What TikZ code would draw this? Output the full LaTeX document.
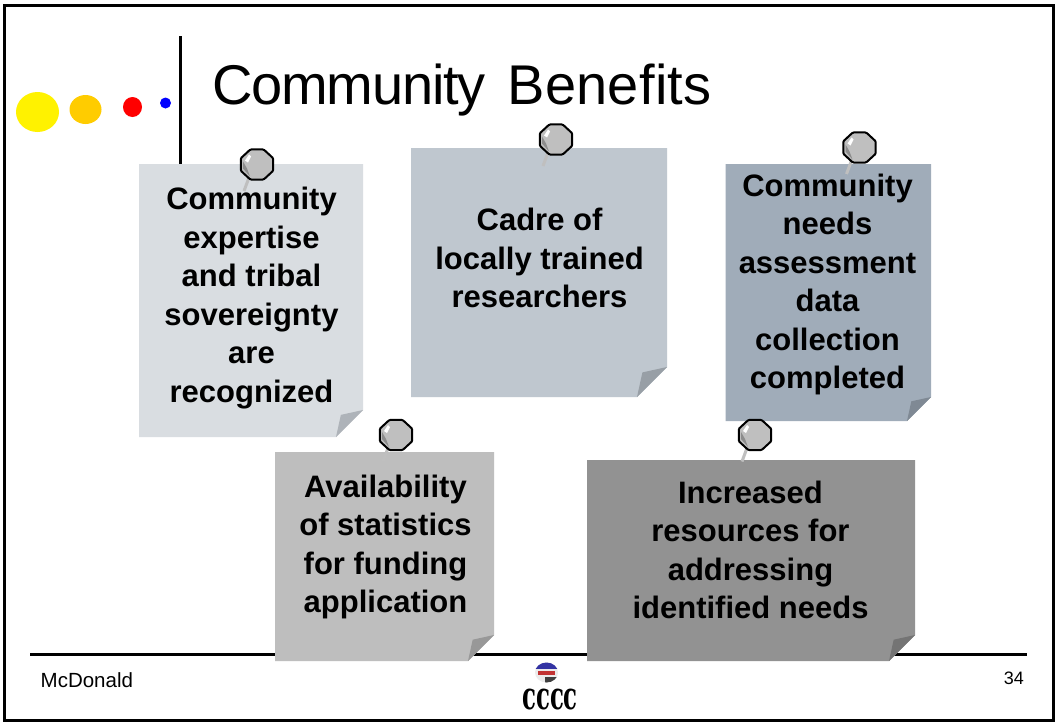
\documentclass[tikz,border=0pt]{standalone}
\usepackage{fontspec}
\setmainfont{Liberation Sans}
\newfontfamily\logofont{DejaVu Serif}
\usetikzlibrary{shapes.geometric}
\definecolor{noteA}{HTML}{D9DDE1}
\definecolor{foldA}{HTML}{AEB3B9}
\definecolor{noteB}{HTML}{BFC7CF}
\definecolor{foldB}{HTML}{989FA6}
\definecolor{noteC}{HTML}{A0ACB9}
\definecolor{foldC}{HTML}{7F8994}
\definecolor{noteD}{HTML}{BEBEBE}
\definecolor{foldD}{HTML}{989898}
\definecolor{noteE}{HTML}{929292}
\definecolor{foldE}{HTML}{747474}
\colorlet{pingray}{black!25}
\newcommand{\stickynote}[8]{% name,x1,y1,x2,y2,fill,fold,cut
  \fill[#6] (#2,#3) -- (#4,#3) -- (#4,#5-#8) -- (#4-#8,#5) -- (#2,#5) -- cycle;
  \fill[#7] (#4,#5-#8) -- (#4-0.82*#8,#5-0.82*#8) -- (#4-#8,#5) -- cycle;
  \coordinate (#1) at (#2,#3);
}
\newcommand{\pushpin}[3]{% name,x,y
  \coordinate (#1n) at (#2-13,#3+26.5);
  \coordinate (#1s) at (#2-8,#3+13);
  \draw[pinneedle] (#1s) -- (#1n);
  \node[pinhead] (#1) at (#2,#3) {};
  \fill[black!45] (#2-14,#3-3) -- (#2-14,#3+4) -- (#2-7,#3+12) -- (#2-10,#3+4) -- cycle;
  \fill[white] (#2-12,#3-4) -- (#2-8,#3-10) -- (#2-6,#3-8) -- (#2-9,#3-2) -- cycle;
}
\tikzset{
  pinhead/.style={draw=black,line width=2pt,fill=pingray,regular polygon,regular polygon sides=8,minimum size=32.5pt,inner sep=0pt,rounded corners=1pt,transform shape,xscale=1.08},
  pinneedle/.style={draw=pingray,line width=3pt},
  notetext/.style={font=\fontsize{31}{38.5}\selectfont\bfseries,align=center,text=black,inner sep=0pt},
  rulestyle/.style={line width=3pt,black},
  footer/.style={font=\fontsize{20.5}{22}\selectfont,inner sep=0pt}
}
\begin{document}
\begin{tikzpicture}[x=1pt,y=-1pt]
\useasboundingbox (0,0) rectangle (1055,723);
\fill[white] (0,0) rectangle (1055,723);
% frame
\draw[line width=3pt,black] (4.5,5.5) -- (1053.5,5.5) -- (1053.5,720.5) -- (4.5,720.5) -- cycle;
% dots
\fill[yellow] (37.5,112) ellipse (21.5 and 20);
\fill[fill={rgb,255:red,255;green,204;blue,0}] (85.5,109.5) ellipse (16 and 14.5);
\fill[red] (132.5,107) ellipse (9.5 and 10);
\fill[blue] (165.5,103) circle (5.5);
% title rule
\draw[line width=3pt,black] (180.5,36) -- (180.5,165);
\node[font=\fontsize{56}{60}\selectfont,anchor=base west,inner sep=0pt] (title) at (212,104) {{\addfontfeature{LetterSpace=-2.2}Community}\hspace{6.5pt} {\addfontfeature{LetterSpace=0.5}Benefits}};
% bottom rule
\draw[rulestyle] (30,654) -- (1027,654);
% notes
\stickynote{n1}{139}{164}{363}{437}{noteA}{foldA}{27}
\stickynote{n2}{411}{148}{667}{397}{noteB}{foldB}{30}
\stickynote{n3}{725.5}{164}{931}{421}{noteC}{foldC}{24}
\stickynote{n4}{275}{452}{494}{661}{noteD}{foldD}{26}
\stickynote{n5}{587}{460}{915}{661}{noteE}{foldE}{26}
% texts
\node[notetext] (t1) at (251.5,298) {Community\\expertise\\and tribal\\sovereignty\\are\\recognized};
\node[notetext] (t2) at (539.5,258) {Cadre of\\locally trained\\researchers};
\node[notetext] (t3) at (827.5,284.5) {Community\\needs\\assessment\\data\\collection\\completed};
\node[notetext] (t4) at (385.5,547) {Availability\\of statistics\\for funding\\application};
\node[notetext] (t5) at (750.5,550) {Increased\\resources for\\addressing\\identified needs};
% pins
\pushpin{p1}{257}{164.5}
\pushpin{p2}{556}{139.5}
\pushpin{p3}{859.5}{147.5}
\pushpin{p4}{396}{435}
\pushpin{p5}{755}{435}
% footer
\node[footer,anchor=base west] (f1) at (40.5,687) {McDonald};
\node[footer,anchor=base east,font=\fontsize{18}{20}\selectfont] (f2) at (1024,684) {34};
% logo
\begin{scope}
\clip (546.5,672.5) ellipse (11.5 and 10);
\fill[black!8] (535,662) rectangle (558,683);
\fill[blue!55!black!80] (535,662) rectangle (558,669);
\fill[red!70!black!80] (538,671) rectangle (555,675);
\fill[black!75] (545,677) rectangle (558,683);
\end{scope}
\node[font=\logofont\fontsize{24}{24}\selectfont\bfseries,inner sep=0pt] (logo) at (550,700) {\scalebox{0.95}[1.6]{cccc}};
\end{tikzpicture}
\end{document}
